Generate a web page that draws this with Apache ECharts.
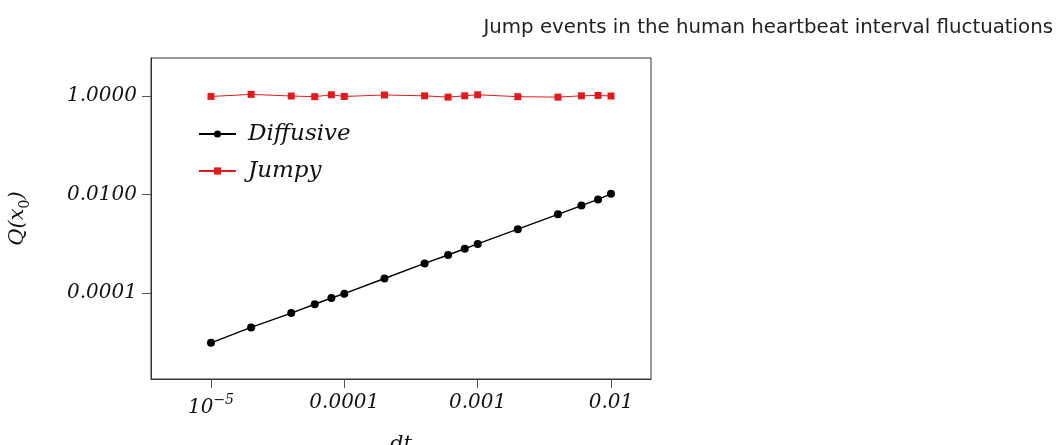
<!DOCTYPE html>
<html>
<head>
<meta charset="utf-8">
<script src="https://cdn.jsdelivr.net/npm/echarts@6/dist/echarts.min.js"></script>
<style>
html, body { margin: 0; padding: 0; background: #fff; }
#main { width: 1063px; height: 445px; }
</style>
</head>
<body>
<div id="main"></div>
<script>
// 时间步长 dt
var dtValues = [1e-5, 2e-5, 4e-5, 6e-5, 8e-5, 1e-4, 2e-4, 4e-4, 6e-4, 8e-4, 1e-3, 2e-3, 4e-3, 6e-3, 8e-3, 1e-2];
// Q(x0) 两组数据
var diffusiveQ = [0.97e-5, 2.0e-5, 3.9e-5, 5.9e-5, 7.9e-5, 0.97e-4, 1.97e-4, 3.98e-4, 5.9e-4, 7.9e-4, 0.99e-3, 1.98e-3, 3.95e-3, 5.95e-3, 7.95e-3, 1.03e-2];
var jumpyQ = [0.98, 1.08, 1.0, 0.97, 1.06, 0.98, 1.05, 1.01, 0.95, 1.01, 1.06, 0.97, 0.95, 1.01, 1.03, 1.0];
// 刻度
var xTicks = [1e-5, 1e-4, 1e-3, 1e-2];
var yTicks = [1e-4, 1e-2, 1];

function pairs(xs, ys) {
    var out = [];
    for (var i = 0; i < xs.length; i++) {
        out.push([xs[i], ys[i]]);
    }
    return out;
}

var mathFont = 'DejaVu Serif';
var myChart = echarts.init(document.getElementById('main'));

var option = {
    animation: false,
    backgroundColor: '#fff',
    title: {
        text: 'Jump events in the human heartbeat interval fluctuations',
        right: 5,
        top: 13,
        textStyle: {
            fontFamily: 'DejaVu Sans',
            fontWeight: 'normal',
            fontSize: 19.8,
            color: '#222'
        }
    },
    grid: {
        left: 151,
        right: 412,
        top: 58,
        bottom: 66,
        outerBoundsMode: 'none',
        show: true,
        borderColor: '#333',
        borderWidth: 1
    },
    legend: {
        orient: 'vertical',
        left: 198,
        top: 122,
        padding: 0,
        itemWidth: 37,
        itemHeight: 9,
        itemGap: 13,
        data: ['Diffusive', 'Jumpy'],
        textStyle: {
            fontFamily: mathFont,
            fontStyle: 'italic',
            fontSize: 23,
            lineHeight: 24,
            color: '#111',
            padding: [0, 0, 0, 7]
        }
    },
    xAxis: {
        type: 'log',
        logBase: 10,
        min: 3.55e-6,
        max: 0.01995,
        name: 'dt',
        nameLocation: 'middle',
        nameGap: 55,
        nameTextStyle: {
            fontFamily: mathFont,
            fontStyle: 'italic',
            fontSize: 21,
            color: '#111'
        },
        axisLine: { show: true, lineStyle: { color: '#333', width: 1 } },
        axisTick: { show: true, length: 9, customValues: xTicks, lineStyle: { color: '#555' } },
        splitLine: { show: false },
        minorTick: { show: false },
        axisLabel: {
            customValues: xTicks,
            margin: 14,
            fontFamily: mathFont,
            fontStyle: 'italic',
            fontSize: 20,
            color: '#111',
            formatter: function(v) {
                var e = Math.round(Math.log10(v));
                if (e === -5) {
                    return '{b|10}{s|−5}';
                }
                return String(Math.pow(10, e).toFixed(-e));
            },
            rich: {
                b: { fontFamily: mathFont, fontStyle: 'italic', fontSize: 20, color: '#111', lineHeight: 30 },
                s: { fontFamily: mathFont, fontStyle: 'italic', fontSize: 14, color: '#111', verticalAlign: 'top', lineHeight: 30 }
            }
        }
    },
    yAxis: {
        type: 'log',
        logBase: 10,
        min: 1.79e-6,
        max: 5.92,
        name: '{i|Q(x}{s|0}{i|)}',
        nameLocation: 'middle',
        nameGap: 119,
        nameRotate: 90,
        nameTextStyle: {
            rich: {
                i: { fontFamily: mathFont, fontStyle: 'italic', fontSize: 21, color: '#111', lineHeight: 28 },
                s: { fontFamily: mathFont, fontSize: 14, color: '#111', verticalAlign: 'bottom', lineHeight: 28 }
            }
        },
        axisLine: { show: true, lineStyle: { color: '#333', width: 1 } },
        axisTick: { show: true, length: 9, customValues: yTicks, lineStyle: { color: '#555' } },
        splitLine: { show: false },
        minorTick: { show: false },
        axisLabel: {
            customValues: yTicks,
            margin: 14,
            fontFamily: mathFont,
            fontStyle: 'italic',
            fontSize: 20,
            color: '#111',
            formatter: function(v) {
                return v.toFixed(4);
            }
        }
    },
    series: [{
        name: 'Diffusive',
        type: 'line',
        data: pairs(dtValues, diffusiveQ),
        symbol: 'circle',
        symbolSize: 8,
        color: '#000',
        lineStyle: { color: '#000', width: 1.4 },
        itemStyle: { color: '#000' },
        z: 3
    }, {
        name: 'Jumpy',
        type: 'line',
        data: pairs(dtValues, jumpyQ),
        symbol: 'rect',
        symbolSize: 7,
        color: '#e31a1c',
        lineStyle: { color: '#e31a1c', width: 1 },
        itemStyle: { color: '#e31a1c' },
        z: 2
    }]
};

myChart.setOption(option);
</script>
</body>
</html>
